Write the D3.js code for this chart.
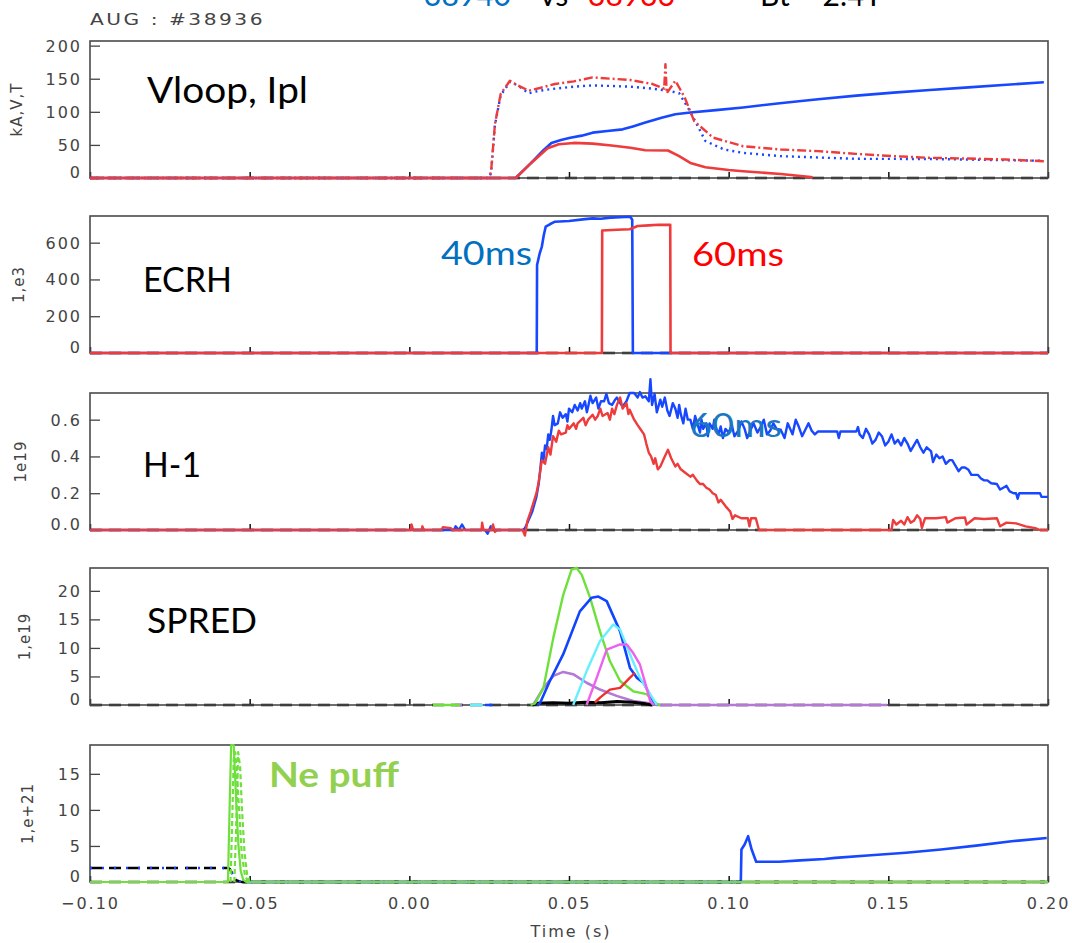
<!DOCTYPE html>
<html><head><meta charset="utf-8">
<script src="https://cdn.jsdelivr.net/npm/d3@7"></script>
<style>
html,body{margin:0;padding:0;background:#fff;}
svg{display:block;}
</style></head><body>
<svg id="chart" width="1072" height="943"></svg>
<script>
// ---------------- data ----------------
const timeTicks = [-0.10, -0.05, 0.00, 0.05, 0.10, 0.15, 0.20];
const timeTickLabels = ["\u22120.10", "\u22120.05", "0.00", "0.05", "0.10", "0.15", "0.20"];

const vloopTicks = [0, 50, 100, 150, 200];
const ecrhTicks = [0, 200, 400, 600];
const h1Ticks = [0, 0.2, 0.4, 0.6];
const spredTicks = [0, 5, 10, 15, 20];
const neTicks = [0, 5, 10, 15];

// Vloop, Ipl  (blue = #38940, red = #38936)
const iplBlue = [[-0.1,0],[0.0333,0],[0.0380,22],[0.0420,42],[0.0445,53],[0.0475,57.5],[0.0504,60.9],[0.0540,64],[0.0574,68.5],[0.0620,71],[0.0668,73.5],[0.0700,78],[0.0739,83.7],[0.0790,91],[0.0833,96.4],[0.0880,98.9],[0.0960,102.5],[0.1045,106.5],[0.1160,113],[0.1280,119],[0.1400,124.5],[0.1516,129],[0.1630,133],[0.1751,137],[0.1870,141],[0.1987,144.6]];
const iplRed = [[-0.1,0],[0.0333,0],[0.0380,22],[0.0433,45],[0.0468,51],[0.0515,53],[0.0574,52],[0.0633,49],[0.0692,45.6],[0.0739,42],[0.0810,41.6],[0.0845,33],[0.0880,22.8],[0.0927,16.2],[0.1000,12],[0.1045,10.1],[0.1163,6.1],[0.1257,1.5],[0.1263,0]];
const vloopBlue = [[-0.1,0],[0.0250,0],[0.0256,8],[0.0268,80],[0.0286,125],[0.0315,145],[0.0339,140],[0.0374,128],[0.0409,132],[0.0456,135],[0.0515,138],[0.0574,140],[0.0633,139],[0.0692,138],[0.0762,135],[0.0810,132],[0.0845,128],[0.0880,100],[0.0927,56],[0.0986,43],[0.1045,38],[0.1163,33],[0.1398,29],[0.1634,28.7],[0.1987,26]];
const vloopRed = [[-0.1,0],[0.0250,0],[0.0256,10],[0.0268,81],[0.0286,127],[0.0315,147],[0.0339,140],[0.0374,132],[0.0409,136],[0.0456,142],[0.0515,146],[0.0574,152],[0.0633,150],[0.0692,148],[0.0762,142],[0.0798,135],[0.0802,172],[0.0806,128],[0.0833,147],[0.0862,122],[0.0892,86],[0.0951,61],[0.1045,48],[0.1163,43],[0.1280,40.6],[0.1398,36.5],[0.1516,33],[0.1634,30.4],[0.1751,29.4],[0.1869,27.9],[0.1987,25.4]];

// ECRH power
const ecrhBlue = [[-0.1,0],[0.0399,0],[0.0400,479],[0.0408,540],[0.0415,579],[0.0421,640],[0.0427,687],[0.0440,700],[0.0456,714],[0.0500,718],[0.0550,728],[0.0574,732],[0.0600,730],[0.0630,736],[0.0660,738],[0.0692,741],[0.0698,725],[0.0700,0],[0.2,0]];
const ecrhRed = [[-0.1,0],[0.0603,0],[0.0604,666],[0.0650,670],[0.0690,673],[0.0715,691],[0.0750,694],[0.0780,697],[0.0817,697],[0.0818,0],[0.2,0]];

// H-1 line density
const h1Blue = [[-0.1,0],[0.0140,0],[0.0145,0.02],[0.0155,0.0],[0.0165,0.03],[0.0175,0.0],[0.0237,0],[0.0245,-0.02],[0.0255,0.02],[0.0265,0],[0.0355,0],[0.0362,0.01],[0.0375,0.06],[0.0385,0.10],[0.0398,0.18],[0.0405,0.25],[0.0410,0.33],[0.0415,0.42],[0.0420,0.38],[0.0425,0.46],[0.0430,0.44],[0.0435,0.52],[0.0440,0.49],[0.0445,0.545],[0.0450,0.62],[0.0455,0.57],[0.0465,0.58],[0.0472,0.64],[0.0480,0.61],[0.0490,0.63],[0.0495,0.59],[0.0500,0.66],[0.0510,0.64],[0.0518,0.68],[0.0527,0.65],[0.0535,0.69],[0.0540,0.66],[0.0550,0.70],[0.0556,0.64],[0.0560,0.67],[0.0567,0.73],[0.0574,0.69],[0.0585,0.72],[0.0592,0.66],[0.0600,0.70],[0.0610,0.70],[0.0617,0.74],[0.0625,0.69],[0.0635,0.68],[0.0645,0.71],[0.0650,0.72],[0.0660,0.69],[0.0668,0.672],[0.0680,0.70],[0.0690,0.745],[0.0704,0.745],[0.0715,0.72],[0.0722,0.75],[0.0730,0.72],[0.0739,0.727],[0.0750,0.70],[0.0755,0.82],[0.0760,0.68],[0.0768,0.74],[0.0775,0.64],[0.0786,0.709],[0.0792,0.67],[0.0800,0.72],[0.0808,0.65],[0.0815,0.62],[0.0825,0.69],[0.0833,0.66],[0.0840,0.61],[0.0845,0.68],[0.0850,0.63],[0.0858,0.58],[0.0865,0.66],[0.0872,0.60],[0.0880,0.60],[0.0888,0.55],[0.0895,0.62],[0.0900,0.59],[0.0910,0.53],[0.0915,0.60],[0.0920,0.55],[0.0930,0.58],[0.0935,0.51],[0.0940,0.58],[0.0950,0.55],[0.0955,0.60],[0.0960,0.56],[0.0968,0.52],[0.0975,0.563],[0.0982,0.50],[0.0990,0.55],[0.1000,0.53],[0.1010,0.57],[0.1018,0.51],[0.1030,0.54],[0.1040,0.59],[0.1050,0.55],[0.1058,0.50],[0.1069,0.545],[0.1078,0.58],[0.1090,0.53],[0.1100,0.56],[0.1110,0.60],[0.1120,0.52],[0.1130,0.54],[0.1140,0.58],[0.1150,0.55],[0.1163,0.545],[0.1175,0.50],[0.1185,0.58],[0.1200,0.52],[0.1210,0.60],[0.1220,0.56],[0.1230,0.51],[0.1240,0.545],[0.1250,0.58],[0.1260,0.54],[0.1270,0.52],[0.1280,0.536],[0.1340,0.536],[0.1345,0.50],[0.1350,0.536],[0.1400,0.536],[0.1405,0.56],[0.1410,0.52],[0.1420,0.50],[0.1430,0.55],[0.1440,0.52],[0.1450,0.47],[0.1460,0.49],[0.1470,0.53],[0.1480,0.51],[0.1490,0.46],[0.1500,0.48],[0.1510,0.52],[0.1520,0.47],[0.1530,0.49],[0.1540,0.46],[0.1550,0.50],[0.1560,0.47],[0.1570,0.43],[0.1580,0.46],[0.1590,0.49],[0.1600,0.45],[0.1610,0.42],[0.1620,0.45],[0.1634,0.427],[0.1640,0.37],[0.1650,0.41],[0.1660,0.39],[0.1670,0.40],[0.1680,0.36],[0.1692,0.38],[0.1700,0.38],[0.1710,0.35],[0.1720,0.32],[0.1730,0.34],[0.1740,0.34],[0.1751,0.327],[0.1760,0.30],[0.1770,0.30],[0.1780,0.30],[0.1790,0.28],[0.1800,0.27],[0.1810,0.27],[0.1822,0.254],[0.1840,0.25],[0.1850,0.22],[0.1860,0.23],[0.1870,0.24],[0.1880,0.21],[0.1892,0.20],[0.1900,0.20],[0.1905,0.17],[0.1910,0.20],[0.1950,0.20],[0.1975,0.20],[0.1980,0.18],[0.2000,0.18]];
const h1Red = [[-0.1,0],[0.0005,0],[0.0007,0.03],[0.0012,0],[0.0039,0],[0.0041,0.02],[0.0045,0],[0.0100,0],[0.0105,0.015],[0.0130,0.01],[0.0135,0],[0.0226,0],[0.0228,0.04],[0.0232,0],[0.0258,0],[0.0262,0.03],[0.0268,-0.01],[0.0275,0],[0.0355,0],[0.0362,-0.03],[0.0370,0.05],[0.0380,0.10],[0.0398,0.20],[0.0405,0.26],[0.0415,0.38],[0.0425,0.36],[0.0435,0.45],[0.0442,0.41],[0.0450,0.51],[0.0460,0.48],[0.0468,0.54],[0.0475,0.52],[0.0490,0.53],[0.0495,0.57],[0.0500,0.55],[0.0515,0.58],[0.0522,0.55],[0.0527,0.58],[0.0545,0.61],[0.0552,0.57],[0.0560,0.60],[0.0574,0.627],[0.0582,0.60],[0.0590,0.62],[0.0598,0.66],[0.0605,0.62],[0.0621,0.636],[0.0628,0.60],[0.0635,0.66],[0.0642,0.63],[0.0650,0.68],[0.0660,0.72],[0.0668,0.66],[0.0680,0.69],[0.0686,0.63],[0.0690,0.654],[0.0704,0.60],[0.0715,0.57],[0.0725,0.545],[0.0735,0.52],[0.0742,0.47],[0.0750,0.42],[0.0757,0.40],[0.0765,0.36],[0.0770,0.39],[0.0778,0.33],[0.0786,0.345],[0.0800,0.40],[0.0810,0.436],[0.0820,0.39],[0.0833,0.345],[0.0840,0.36],[0.0850,0.33],[0.0865,0.31],[0.0880,0.29],[0.0888,0.30],[0.0900,0.27],[0.0910,0.25],[0.0920,0.25],[0.0930,0.23],[0.0940,0.22],[0.0950,0.20],[0.0960,0.19],[0.0968,0.15],[0.0975,0.164],[0.0990,0.13],[0.1005,0.10],[0.1012,0.06],[0.1020,0.08],[0.1040,0.064],[0.1060,0.064],[0.1065,0.02],[0.1070,0.064],[0.1085,0.064],[0.1095,0],[0.1510,0],[0.1515,0.055],[0.1525,0.03],[0.1540,0.05],[0.1550,0.03],[0.1560,0.07],[0.1570,0.04],[0.1580,0.05],[0.1590,0.08],[0.1600,0.06],[0.1605,0.01],[0.1615,0.064],[0.1650,0.064],[0.1680,0.070],[0.1685,0.04],[0.1710,0.064],[0.1740,0.068],[0.1745,0.03],[0.1770,0.064],[0.1800,0.06],[0.1840,0.064],[0.1850,0.02],[0.1870,0.04],[0.1900,0.036],[0.1930,0.02],[0.1960,0.01],[0.1975,0],[0.2,0]];

// SPRED impurity lines
const spredPurple = [[0.0143,0],[0.0165,0],[0.0166,null],[0.0388,0],[0.0420,3.0],[0.0451,5.1],[0.0482,5.8],[0.0513,5.4],[0.0555,3.9],[0.0597,2.7],[0.0649,1.6],[0.0701,0.7],[0.0764,0.2],[0.0775,0],[0.1496,0]];
const spredGreen = [[0.0074,0],[0.0159,0],[0.0160,null],[0.0380,0],[0.0394,0.3],[0.0420,3.0],[0.0451,11.8],[0.0482,19.3],[0.0508,23.7],[0.0524,24.0],[0.0540,22.8],[0.0566,18.8],[0.0597,12.9],[0.0628,7.7],[0.0660,4.2],[0.0701,2.4],[0.0743,1.9],[0.0775,0.2],[0.0785,0]];
const spredBlue = [[0.0237,0],[0.0260,0],[0.0261,null],[0.0400,0],[0.0409,0.3],[0.0440,4.2],[0.0482,8.9],[0.0534,16.4],[0.0571,18.8],[0.0592,19.0],[0.0618,18.2],[0.0660,12.9],[0.0691,6.5],[0.0712,4.8],[0.0733,3.9],[0.0764,0.7],[0.0775,0]];
const spredCyan = [[0.0190,0],[0.0230,0],[0.0231,null],[0.0513,0],[0.0555,5.9],[0.0597,11.2],[0.0639,14.1],[0.0660,13.2],[0.0691,8.9],[0.0722,4.8],[0.0754,1.9],[0.0775,0]];
const spredMagenta = [[0.0555,0],[0.0587,4.8],[0.0618,9.7],[0.0660,10.6],[0.0681,10.6],[0.0701,9.1],[0.0722,7.1],[0.0743,3.0],[0.0754,0.7],[0.0764,0]];
const spredRed = [[0.0581,0.4],[0.0597,1.3],[0.0628,2.7],[0.0660,3.0],[0.0691,4.8],[0.0707,5.65]];
const spredBlack = [[0.0385,0],[0.0400,0.3],[0.0450,0.4],[0.0500,0.3],[0.0550,0.5],[0.0600,0.4],[0.0650,0.6],[0.0700,0.5],[0.0740,0.2],[0.0760,0]];

// Ne puff
const neGreen = [[-0.1,0],[-0.0568,0],[-0.0563,10],[-0.0558,19],[-0.0550,19],[-0.0545,14],[-0.0540,9],[-0.0535,5],[-0.0528,1.5],[-0.0520,0.3],[-0.0510,0],[0.2,0]];
const neGreenDashA = [[-0.0560,0],[-0.0555,8],[-0.0550,17],[-0.0545,18],[-0.0540,15],[-0.0533,10],[-0.0525,4],[-0.0515,1],[-0.0505,0]];
const neGreenDashB = [[-0.0548,0],[-0.0542,8],[-0.0536,18],[-0.0530,16],[-0.0524,10],[-0.0516,4],[-0.0508,1],[-0.0500,0]];
const neBlack = [[-0.1,1.95],[-0.0568,1.95],[-0.0562,1.8],[-0.0556,1.3],[-0.0550,0.7],[-0.0542,0.25],[-0.0530,0.05],[-0.0520,0],[0.2,0]];
const neBlueDot = [[-0.1,1.95],[-0.0568,1.95],[-0.0562,1.8],[-0.0556,1.3],[-0.0550,0.7],[-0.0542,0.25],[-0.0530,0.05],[-0.0520,0],[0.1039,0]];
const neBlue = [[-0.0520,0],[0.1038,0],[0.1040,4.5],[0.1050,5.2],[0.1061,6.35],[0.1072,4.5],[0.1086,2.8],[0.1158,2.8],[0.1224,3.0],[0.1300,3.2],[0.1334,3.35],[0.1445,3.7],[0.1555,4.05],[0.1665,4.5],[0.1775,5.05],[0.1886,5.65],[0.1996,6.1]];

// ---------------- drawing ----------------
const svg = d3.select("#chart");
const LEFT = 90, RIGHT = 1048, PH = 137;
const tops = [41, 216, 393, 568, 745];
const x = d3.scaleLinear().domain([-0.10, 0.20]).range([LEFT, RIGHT]);

const BLUE = "#1747ff", RED = "#ee3b3b";
const idlFont = "'DejaVu Sans', sans-serif";
const slideFont = "Lato, 'Open Sans', sans-serif";

// plain grey lettering of the plotting program
function styleIdlText(sel, size) {
  sel.attr("font-family", idlFont).attr("font-size", size)
     .attr("fill", "#444").attr("stroke", "none")
     .attr("letter-spacing", 2);
}

function panel(i, domain, ticks, fmt, title, titleX, isBottom) {
  const top = tops[i], bottom = top + PH;
  const y = d3.scaleLinear().domain(domain).range([bottom, top]);
  const g = svg.append("g");

  // zero reference line
  g.append("line").attr("x1", LEFT).attr("x2", RIGHT).attr("y1", y(0)).attr("y2", y(0))
    .attr("stroke", "#111").attr("stroke-width", 2.5).attr("stroke-dasharray", "12,7");

  // left axis with inward ticks
  const ay = g.append("g").attr("transform", `translate(${LEFT},0)`)
    .call(d3.axisLeft(y).tickValues(ticks).tickSize(-10).tickPadding(8).tickFormat(fmt));
  ay.select(".domain").remove();
  ay.selectAll(".tick line").attr("stroke", "#444").attr("stroke-width", 1.3);
  ay.selectAll(".tick text").call(styleIdlText, 16)
    .attr("dy", d => d === 0 ? "-0.05em" : "0.34em");

  // bottom axis with short inward ticks
  const ax = g.append("g").attr("transform", `translate(0,${bottom})`)
    .call(d3.axisBottom(x).tickValues(timeTicks).tickSize(-6).tickPadding(16)
      .tickFormat((d, k) => isBottom ? timeTickLabels[k] : ""));
  ax.select(".domain").remove();
  ax.selectAll(".tick line").attr("stroke", "#111").attr("stroke-width", 1.5);
  ax.selectAll(".tick text").call(styleIdlText, 16);

  // frame
  g.append("rect").attr("x", LEFT).attr("y", top).attr("width", RIGHT - LEFT).attr("height", PH)
    .attr("fill", "none").attr("stroke", "#4a4a4a").attr("stroke-width", 1.6);

  // axis title
  g.append("text").attr("transform", `translate(${titleX},${top + PH / 2}) rotate(-90)`)
    .attr("text-anchor", "middle").text(title).call(styleIdlText, 15).attr("letter-spacing", 1);

  const line = d3.line().defined(d => d[1] !== null).x(d => x(d[0])).y(d => y(d[1]));
  const series = g.append("g");
  function draw(data, color, width, dash) {
    const p = series.append("path").datum(data).attr("d", line)
      .attr("fill", "none").attr("stroke", color).attr("stroke-width", width)
      .attr("stroke-linejoin", "round");
    if (dash) p.attr("stroke-dasharray", dash);
    return p;
  }
  return { g, y, draw };
}

const intFmt = d3.format("d");
const p1 = panel(0, [0, 207], vloopTicks, intFmt, "kA,V,T", 22, false);
p1.draw(iplBlue, BLUE, 2.6);
p1.draw(vloopBlue, BLUE, 2.4, "2,4");
p1.draw(iplRed, RED, 2.6);
p1.draw(vloopRed, RED, 2.4, "9,3,2,3");

const p2 = panel(1, [0, 745], ecrhTicks, intFmt, "1,e3", 24, false);
p2.draw(ecrhBlue, BLUE, 2.6);
p2.draw(ecrhRed, RED, 2.6);

const p3 = panel(2, [0, 0.745], h1Ticks, d3.format(".1f"), "1e19", 26, false);
p3.draw(h1Blue, BLUE, 2.4);
p3.draw(h1Red, RED, 2.4);

const p4 = panel(3, [0, 24], spredTicks, intFmt, "1,e19", 30, false);
p4.draw(spredPurple, "#b478d6", 2.6);
p4.draw(spredBlack, "#000", 3);
p4.draw(spredGreen, "#6ee03c", 2.4);
p4.draw(spredBlue, "#1144ff", 2.6);
p4.draw(spredCyan, "#66f0ff", 2.4);
p4.draw(spredMagenta, "#f060f0", 2.4);
p4.draw(spredRed, "#ee3030", 2.4);

const p5 = panel(4, [0, 19], neTicks, intFmt, "1,e+21", 33, true);
p5.draw(neBlue, BLUE, 2.6);
p5.draw(neBlack, "#000", 2.5, "12,7");
p5.draw(neBlueDot, BLUE, 2.5, "2,10");
p5.draw(neGreen, "#6ee03c", 2.2);
p5.draw(neGreenDashA, "#6ee03c", 2.2, "5,3");
p5.draw(neGreenDashB, "#6ee03c", 2.2, "5,3");

// header and axis title
svg.append("text").attr("x", 90).attr("y", 25).text("AUG : #38936")
  .call(styleIdlText, 16).attr("textLength", 175).attr("lengthAdjust", "spacingAndGlyphs");
svg.append("text").attr("x", 571).attr("y", 937).attr("text-anchor", "middle").text("Time (s)")
  .call(styleIdlText, 16);

// slide title, running off the top edge
const ttl = svg.append("text").attr("y", 6).attr("font-family", slideFont).attr("font-size", 30);
ttl.append("tspan").attr("x", 424).attr("fill", "#0070c0").text("38940");
ttl.append("tspan").attr("x", 540).attr("fill", "#000").text("vs");
ttl.append("tspan").attr("x", 588).attr("fill", "#ff0000").text("38936");
ttl.append("tspan").attr("x", 735).attr("fill", "#000").text("\u2013 Bt = 2.4T");

// panel annotations
function note(txt, xp, yp, size, color, len, weight) {
  svg.append("text").attr("x", xp).attr("y", yp).attr("font-family", slideFont)
    .attr("font-size", size).attr("fill", color).attr("font-weight", weight || 400)
    .attr("textLength", len).attr("lengthAdjust", "spacingAndGlyphs").text(txt);
}
note("Vloop, Ipl", 147, 103, 36, "#000", 161);
note("ECRH", 143, 292, 34, "#000", 89);
note("H-1", 143, 477, 35, "#000", 58);
note("SPRED", 147, 633, 35, "#000", 110);
note("40ms", 441, 265, 33, "#0070c0", 91);
note("60ms", 692, 266, 33, "#ff0000", 92);
note("60ms", 690, 437, 33, "#1a78c2", 92);
note("Ne puff", 269, 787, 34, "#92d050", 130, 700);
</script>
</body></html>
